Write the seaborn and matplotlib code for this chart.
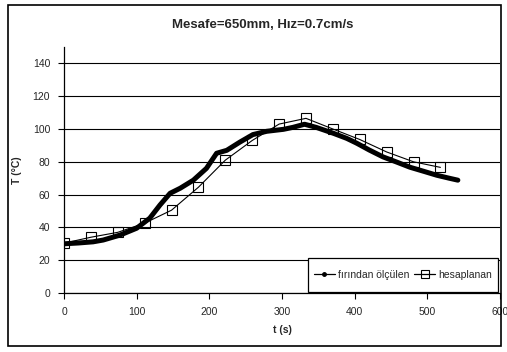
import numpy as np
import pandas as pd
import matplotlib
matplotlib.use("Agg")
import matplotlib.pyplot as plt
import seaborn as sns
from matplotlib.lines import Line2D
from matplotlib.patches import Rectangle

# Measured (fırından ölçülen)
t_meas = [0, 20, 40, 54, 77, 100, 118, 132, 146, 160, 178, 196, 210, 224, 242, 260,
          279, 302, 315, 331, 347, 370, 389, 403, 420, 439, 458, 476, 495, 513, 530, 542]
T_meas = [30, 30.5, 31.2, 32.3, 35.3, 39.5, 45.6, 53.6, 60.8, 63.9, 68.8, 76, 85.2, 87,
          92, 96.6, 98.6, 99.8, 101, 102.9, 101, 97.5, 94.3, 91.3, 87.2, 83, 79.8, 76.7,
          74.2, 71.8, 70, 68.8]

# Calculated (hesaplanan)
t_calc = [0, 37, 74, 111, 148, 185, 222, 259, 296, 333, 370, 407, 444, 481, 518]
T_calc = [30.4, 34, 37, 42.6, 50.5, 64.5, 81, 93, 103, 106.5, 100, 93.6, 86, 80, 76.6]

title = "Mesafe=650mm, Hız=0.7cm/s"
xlabel = "t (s)"
ylabel = "T (°C)"
label_meas = "fırından ölçülen"
label_calc = "hesaplanan"

sns.set_style("white")
plt.rcParams['font.family'] = ['Liberation Sans', 'DejaVu Sans']

fig = plt.figure(figsize=(5.07, 3.52), dpi=100)
ax = fig.add_axes([64/507, 1-293/352, (500-64)/507, (293-47)/352])

df_m = pd.DataFrame({"t": t_meas, "T": T_meas})
df_c = pd.DataFrame({"t": t_calc, "T": T_calc})

sns.lineplot(data=df_c, x="t", y="T", ax=ax, color="black", lw=0.8,
             marker="s", markersize=7, markerfacecolor="none",
             markeredgecolor="black", markeredgewidth=0.8, zorder=3)
sns.lineplot(data=df_m, x="t", y="T", ax=ax, color="black", lw=3.6,
             solid_capstyle="round", zorder=4)

ax.set_xlim(0, 600)
ax.set_ylim(0, 150)
ax.set_xticks(range(0, 601, 100))
ax.set_yticks(range(0, 141, 20))
ax.yaxis.grid(True, color="black", lw=0.8)
ax.xaxis.grid(False)
ax.set_axisbelow(True)
for s in ["top", "right"]:
    ax.spines[s].set_visible(False)
for s in ["left", "bottom"]:
    ax.spines[s].set_color("black")
    ax.spines[s].set_linewidth(0.9)
ax.tick_params(axis="both", which="major", length=4, width=0.8, color="black",
               labelsize=7.5, direction="out", pad=6, bottom=True, left=True)
ax.set_xlabel(xlabel, fontsize=7.5, fontweight="bold", labelpad=6)
ax.set_ylabel(ylabel, fontsize=7.5, fontweight="bold", labelpad=8)
fig.text(263/507, 1-25/352, title, ha="center", va="center",
         fontsize=9.5, fontweight="bold")

# legend box (frame drawn separately to get Excel-like proportions)
bx0, bx1 = (308 - 64) / 436, (498 - 64) / 436
by0, by1 = 0.004, (293 - 258) / 246
ax.add_patch(Rectangle((bx0, by0), bx1 - bx0, by1 - by0, transform=ax.transAxes,
                       facecolor="white", edgecolor="black", lw=0.9, zorder=9,
                       clip_on=False))

handles = [
    Line2D([], [], color="black", lw=0.9, marker="o", markersize=2.5),
    Line2D([], [], color="black", lw=0.9, marker="s", markersize=6,
           markerfacecolor="none", markeredgewidth=0.8),
]
leg = ax.legend(handles, [label_meas, label_calc], loc="center", ncol=2,
                fontsize=7.5, frameon=False,
                handlelength=2.0, handletextpad=0.3,
                columnspacing=0.5, borderpad=0.0, borderaxespad=0.0,
                bbox_to_anchor=((bx0 + bx1) / 2, (by0 + by1) / 2))
leg.set_zorder(10)

fig.patches.append(Rectangle((8/507, 1-346/352), (501-8)/507, (346-5)/352,
                             transform=fig.transFigure, fill=False,
                             edgecolor="black", lw=1.2))

fig.savefig("out.png", dpi=100)
